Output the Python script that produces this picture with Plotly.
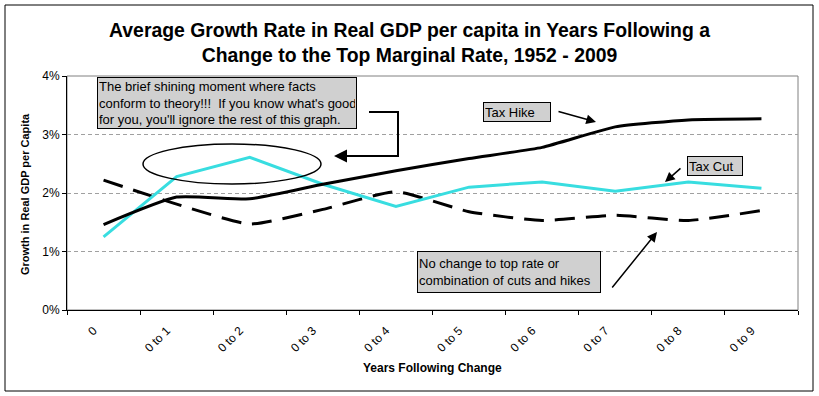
import plotly.graph_objects as go

categories = ["0", "0 to 1", "0 to 2", "0 to 3", "0 to 4", "0 to 5", "0 to 6", "0 to 7", "0 to 8", "0 to 9"]
tax_hike = [1.46, 1.93, 1.90, 2.15, 2.38, 2.59, 2.78, 3.13, 3.25, 3.27]
tax_cut = [1.25, 2.28, 2.61, 2.15, 1.77, 2.10, 2.19, 2.03, 2.19, 2.08]
no_change = [2.22, 1.81, 1.47, 1.72, 2.02, 1.68, 1.53, 1.62, 1.53, 1.70]
y_ticks = [0, 1, 2, 3, 4]
y_tick_labels = [f"{v}%" for v in y_ticks]

W, H = 819, 396
L, R, T, B = 67, 798, 76, 310

def px(x):
    return (x - L) / (R - L)

def py(y):
    return (B - y) / (B - T)

fig = go.Figure()
fig.add_trace(go.Scatter(x=categories, y=no_change, mode="lines", name="No change",
                         line=dict(color="black", width=3, dash="20px,11px", shape="spline", smoothing=0.5)))
fig.add_trace(go.Scatter(x=categories, y=tax_cut, mode="lines", name="Tax Cut",
                         line=dict(color="#38dde0", width=3)))
fig.add_trace(go.Scatter(x=categories, y=tax_hike, mode="lines", name="Tax Hike",
                         line=dict(color="black", width=3, shape="spline", smoothing=0.5)))

font = "Arial, Liberation Sans, sans-serif"
shapes = [
    dict(type="rect", xref="paper", yref="paper", x0=0, x1=1, y0=0, y1=1,
         line=dict(color="#808080", width=1), layer="below"),
    dict(type="rect", xref="paper", yref="paper", x0=px(5), x1=px(813), y0=py(391), y1=py(5),
         line=dict(color="black", width=1)),
    dict(type="circle", xref="paper", yref="paper", x0=px(143), x1=px(321), y0=py(184), y1=py(144),
         line=dict(color="black", width=1.5)),
    dict(type="path", xref="paper", yref="paper",
         path=f"M {px(369)},{py(112)} L {px(398)},{py(112)} L {px(398)},{py(156)} L {px(345)},{py(156)}",
         line=dict(color="black", width=2)),
]

box_style = dict(xref="paper", yref="paper", xanchor="left", yanchor="top", align="left",
                 bgcolor="#d0d0d0", bordercolor="black", borderwidth=1, borderpad=1,
                 showarrow=False, font=dict(family=font, size=13, color="black"))

annotations = [
    dict(text="The brief shining moment where facts<br>conform to theory!!! \u00a0If you know what's good<br>for you, you'll ignore the rest of this graph.",
         x=px(97), y=py(77), width=256, height=48, **box_style),
    dict(text="Tax Hike", x=px(483), y=py(102), width=64, height=16, **box_style),
    dict(text="Tax Cut", x=px(687), y=py(156), width=52, height=16, **box_style),
    dict(text="No change to top rate or<br>combination of cuts and hikes", x=px(417), y=py(251),
         width=180, height=38, **box_style),
]

def arrow(x0, y0, x1, y1, w=1.5):
    return dict(text="", xref="paper", yref="paper", x=px(x1), y=py(y1),
                ax=x0 - x1, ay=y0 - y1, axref="pixel", ayref="pixel",
                showarrow=True, arrowhead=2, arrowsize=1.3, arrowwidth=w, arrowcolor="black",
                standoff=0, startstandoff=0)

annotations += [
    arrow(350, 156, 334, 156, 2),
    arrow(557, 111, 596, 122),
    arrow(682, 167, 665, 182),
    arrow(611, 289, 657, 232),
    dict(text="<b>Growth in Real GDP per Capita</b>", xref="paper", yref="paper",
         x=px(25), y=py(194), xanchor="center", yanchor="middle", textangle=-90, showarrow=False,
         font=dict(family=font, size=11, color="black")),
    dict(text="<b>Years Following Change</b>", xref="paper", yref="paper",
         x=px(432), y=py(368), xanchor="center", yanchor="middle", showarrow=False,
         font=dict(family=font, size=12, color="black")),
]

fig.update_layout(
    width=W, height=H,
    margin=dict(l=L, r=W - R, t=T, b=H - B),
    paper_bgcolor="white", plot_bgcolor="white",
    showlegend=False,
    title=dict(text="<b>Average Growth Rate in Real GDP per capita in Years Following a<br>Change to the Top Marginal Rate, 1952 - 2009</b>",
               x=0.5, xref="container", xanchor="center",
               y=1 - 37 / H, yref="container", yanchor="middle",
               font=dict(family=font, size=19.4, color="black")),
    xaxis=dict(type="category", range=[-0.5, 9.5], showgrid=False, tickangle=-45,
               ticks="outside", tickson="boundaries", ticklen=4, tickcolor="black",
               showline=True, linecolor="black", linewidth=1,
               ticklabelstandoff=8, ticklabelshift=-10,
               tickfont=dict(family=font, size=12, color="black")),
    yaxis=dict(range=[0, 4], tickvals=y_ticks, ticktext=y_tick_labels, showgrid=True,
               gridcolor="#a0a0a0", griddash="4px,3px", gridwidth=1,
               ticks="outside", ticklen=4, tickcolor="black",
               showline=True, linecolor="black", linewidth=1, zeroline=False,
               tickfont=dict(family=font, size=12, color="black")),
    shapes=shapes,
    annotations=annotations,
)

fig.write_html("out.html", config={"displayModeBar": False},
               post_script="document.body.style.margin='0';document.body.style.overflow='hidden';")
